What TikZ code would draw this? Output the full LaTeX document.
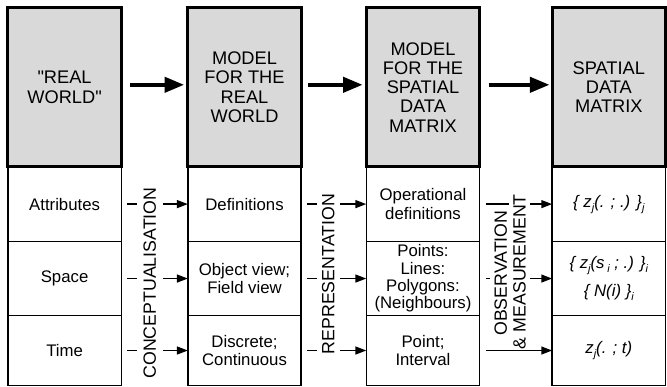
\documentclass[tikz,border=0pt]{standalone}
\usepackage{fontspec}
\setmainfont{Liberation Sans}
\usetikzlibrary{arrows.meta}
\definecolor{headgray}{RGB}{217,217,217}
\newcommand{\lowidx}[1]{\raisebox{-0.45ex}{\fontsize{11}{11}\selectfont #1}}

\begin{document}
\begin{tikzpicture}[x=1pt, y=-1pt,
  headbox/.style={draw, line width=3pt, fill=headgray, minimum width=115pt, minimum height=161pt,
    inner sep=0pt, outer sep=0pt, align=center, font=\fontsize{18.5}{19.5}\selectfont},
  cellbox/.style={draw, line width=1.5pt, minimum width=115pt, inner sep=0pt, outer sep=0pt,
    align=center, font=\fontsize{17}{19}\selectfont},
  steplabel/.style={rotate=90, fill=white, inner xsep=1pt, font=\fontsize{18}{19}\selectfont},
  headarrow/.style={line width=4.5pt, -{Triangle[length=20pt,width=15pt]}},
  rowarrow/.style={line width=1.5pt, -{Triangle[length=11pt,width=8pt]}}]

  %% ════ 下部格子（先画，表头粗框压在上面）════
  \node[cellbox, minimum height=76pt] (attr)  at (65.5,207)   {Attributes};
  \node[cellbox, minimum height=75pt] (space) at (65.5,282.5) {Space};
  \node[cellbox, minimum height=71pt] (time)  at (65.5,355.5) {Time};

  \node[cellbox, minimum height=76pt] (defs)  at (248,207)   {Definitions};
  \node[cellbox, minimum height=75pt] (views) at (248,282.5) {Object view;\\Field view};
  \node[cellbox, minimum height=71pt] (disc)  at (248,355.5) {Discrete;\\Continuous};

  \node[cellbox, minimum height=76pt] (opdef) at (429,207)   {Operational\\definitions};
  \node[cellbox, minimum height=75pt, font=\fontsize{17}{17.5}\selectfont] (geom) at (429,282.5)
    {Points:\\Lines:\\Polygons:\\(Neighbours)};
  \node[cellbox, minimum height=71pt] (intv)  at (429,355.5) {Point;\\Interval};

  \node[cellbox, minimum height=76pt, font=\fontsize{17}{19}\selectfont\itshape] (zattr) at (617.5,207)
    {\{ z\lowidx{j}(. ; .) \}\lowidx{j}};
  \node[cellbox, minimum height=75pt, font=\fontsize{17}{19}\selectfont\itshape] (zspace) at (617.5,282.5)
    {\{ z\lowidx{j}(s\,\lowidx{i} ; .) \}\lowidx{i}\\[9pt]\{ N(i) \}\lowidx{i}};
  \node[cellbox, minimum height=71pt, font=\fontsize{17}{19}\selectfont\itshape] (ztime) at (617.5,355.5)
    {z\lowidx{j}(. ; t)};

  %% ════ 表头 ════
  \node[headbox] (real)  at (65.5,88.5)  {\textquotedbl REAL\\WORLD\textquotedbl};
  \node[headbox] (mrw)   at (248,88.5)   {MODEL\\FOR THE\\REAL\\WORLD};
  \node[headbox] (msdm)  at (429,88.5)   {MODEL\\FOR THE\\SPATIAL\\DATA\\MATRIX};
  \node[headbox] (sdm)   at (617.5,88.5) {SPATIAL\\DATA\\MATRIX};

  %% ════ 粗箭头 ════
  \draw[headarrow] ([xshift=9pt,yshift=2.5pt]real.east) -- ([xshift=-3.5pt,yshift=2.5pt]mrw.west);
  \draw[headarrow] ([xshift=7pt,yshift=2.5pt]mrw.east)  -- ([xshift=-3.5pt,yshift=2.5pt]msdm.west);
  \draw[headarrow] ([xshift=9pt,yshift=2.5pt]msdm.east) -- ([xshift=-2.5pt,yshift=2.5pt]sdm.west);

  %% ════ 行间箭头（文字盖在上面）════
  \draw[rowarrow] ([xshift=6pt]attr.east)  -- (defs.west);
  \draw[rowarrow] ([xshift=6pt]space.east) -- (views.west);
  \draw[rowarrow] ([xshift=6pt]time.east)  -- (disc.west);

  \draw[rowarrow] ([xshift=6pt]defs.east)  -- (opdef.west);
  \draw[rowarrow] ([xshift=6pt]views.east) -- (geom.west);
  \draw[rowarrow] ([xshift=6pt]disc.east)  -- (intv.west);

  \draw[rowarrow] ([xshift=6pt]opdef.east) -- (zattr.west);
  \draw[rowarrow] ([xshift=6pt]geom.east)  -- (zspace.west);
  \draw[rowarrow] ([xshift=6pt]intv.east)  -- (ztime.west);

  %% ════ 竖排标签 ════
  \node[steplabel, inner ysep=6.5pt] (concept) at (152,287)   {CONCEPTUALISATION};
  \node[steplabel, inner ysep=5pt]   (repr)    at (333,278)   {REPRESENTATION};
  \node[steplabel, inner ysep=4.5pt] (observ)  at (508,277)   {OBSERVATION};
  \node[steplabel, inner ysep=4.5pt] (measure) at (527,275.5) {\& MEASUREMENT};

  % 钉死画布
  \path[use as bounding box] (0,0) rectangle (667,392);
\end{tikzpicture}
\end{document}
